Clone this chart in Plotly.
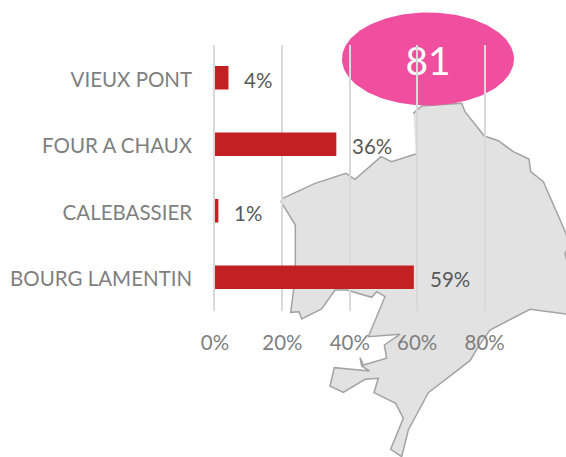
import numpy as np
import plotly.graph_objects as go

categories = ["VIEUX PONT", "FOUR A CHAUX", "CALEBASSIER", "BOURG LAMENTIN"]
values = [4, 36, 1, 59]
tick_vals = [0, 20, 40, 60, 80]
tick_text = ["0%", "20%", "40%", "60%", "80%"]
badge_text = "81"

map_x = [430, 455, 575, 585, 643, 685, 730, 777, 782, 820, 888, 895, 885, 890, 900, 900, 888, 780, 660, 625, 600,
         475, 415, 395, 362, 400, 377, 312, 325, 285, 220, 180, 193, 298, 275, 270, 280, 350, 343, 390, 295,
         345, 320, 305, 230, 195, 155, 95, 87, 62, 76, 76, 33, 38, 135, 228, 255, 333, 365, 437]
map_y = [70, 48, 40, 65, 138, 152, 185, 207, 245, 275, 430, 470, 490, 510, 520, 675, 672, 658, 720, 770, 812,
         908, 1020, 1100, 1078, 985, 940, 908, 865, 868, 907, 888, 833, 843, 828, 803, 825, 805, 765, 733, 740,
         620, 605, 622, 600, 600, 657, 687, 665, 667, 560, 405, 335, 325, 280, 250, 268, 200, 215, 192]

W, H = 566, 457
FONT = "Lato, Carlito, Calibri, sans-serif"
t = np.linspace(0, 2 * np.pi, 181)

fig = go.Figure()
fig.add_trace(go.Scatter(x=map_x, y=map_y, mode="lines", fill="toself", fillcolor="#e2e2e2",
                         line=dict(color="#a3a3a3", width=1.5), hoverinfo="skip", showlegend=False))
fig.add_trace(go.Scatter(x=474 + 258 * np.cos(t), y=-93 + 139.5 * np.sin(t), mode="lines", fill="toself",
                         fillcolor="#f04e9f", line=dict(color="#f04e9f", width=0),
                         hoverinfo="skip", showlegend=False))
fig.add_trace(go.Scatter(x=[474], y=[-75], mode="text", text=[badge_text],
                         textfont=dict(family=FONT, size=39, color="white"),
                         hoverinfo="skip", showlegend=False))
fig.add_trace(go.Bar(x=values, y=categories, orientation="h", xaxis="x2", yaxis="y2", width=0.35,
                     marker=dict(color="#c32024", line=dict(width=0)), showlegend=False))

for v, c in zip(values, categories):
    fig.add_annotation(x=v, y=c, xref="x2", yref="y2", text=f"{v}%", showarrow=False, xanchor="left",
                       xshift=14, yshift=-2, font=dict(family=FONT, size=20.5, color="#595959"))

fig.update_layout(
    width=W, height=H, margin=dict(l=0, r=0, t=0, b=0, autoexpand=False), autosize=False,
    paper_bgcolor="white", plot_bgcolor="rgba(0,0,0,0)",
    xaxis=dict(domain=[0, 1], range=[-810, 888], visible=False, fixedrange=True, automargin=False),
    yaxis=dict(domain=[0, 1], range=[1101, -270], visible=False, fixedrange=True, automargin=False),
    xaxis2=dict(domain=[215 / W, 552 / W], range=[0, 100], anchor="y2", tickvals=tick_vals, ticktext=tick_text,
                showgrid=True, gridcolor="#d9d9d9", gridwidth=1.5, zeroline=False, showline=False,
                ticks="outside", ticklen=14, tickcolor="rgba(0,0,0,0)", automargin=False,
                tickfont=dict(family=FONT, size=20.5, color="#7f7f7f"), fixedrange=True),
    yaxis2=dict(domain=[1 - 310.5 / H, 1 - 44.5 / H], categoryorder="array", categoryarray=categories[::-1],
                anchor="x2", showgrid=False, zeroline=False, showline=True, linecolor="#d9d9d9", linewidth=1.5,
                ticks="outside", ticklen=17, tickcolor="rgba(0,0,0,0)", automargin=False,
                ticklabelshift=2,
                tickfont=dict(family=FONT, size=20.5, color="#7f7f7f"), fixedrange=True),
)
fig.write_html("out.html", config={"displayModeBar": False},
               post_script="document.body.style.margin='0';document.documentElement.style.overflow='hidden';")
